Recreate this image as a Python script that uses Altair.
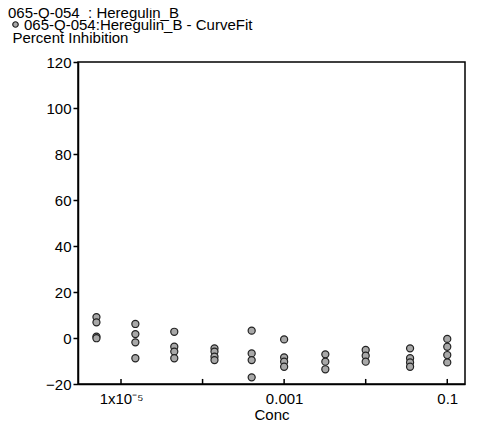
import altair as alt
import pandas as pd

# Concentrations (x) and replicate responses (Percent Inhibition)
conc = [5e-6, 1.5e-5, 4.5e-5, 1.4e-4, 4e-4, 1e-3, 3.2e-3, 1e-2, 3.5e-2, 0.1]
rep1 = [9.1, 6.1, 2.7, -4.5, 3.2, -0.6, -7.1, -5.2, -4.5, -0.4]
rep2 = [6.8, 1.7, -3.8, -5.9, -6.7, -8.4, -10.3, -7.7, -8.8, -3.8]
rep3 = [0.6, -1.9, -5.9, -8.1, -9.6, -10.3, -13.6, -10.3, -10.6, -7.4]
rep4 = [-0.1, -8.8, -8.8, -9.6, -17.1, -12.5, None, None, -12.5, -10.6]

series_name = "065-Q-054:Heregulin_B - CurveFit"
title_text = "065-Q-054\u00a0\u00a0: Heregulin_B"
y_title = "Percent Inhibition"
x_title = "Conc"
y_ticks = [-20, 0, 20, 40, 60, 80, 100, 120]
x_label_vals = [1e-5, 1e-3, 0.1]
x_tick_vals = [1e-5, 1e-4, 1e-3, 1e-2, 0.1]

rows = []
for reps in (rep1, rep2, rep3, rep4):
    for c, v in zip(conc, reps):
        if v is not None:
            rows.append({"Conc": c, "Value": v, "Series": series_name})
df = pd.DataFrame(rows)
ticks_df = pd.DataFrame({"Conc": x_tick_vals})

FONT = "Liberation Sans"
FS = 15
x_scale = alt.Scale(type="log", domain=[2.97e-6, 0.165], nice=False)
y_scale = alt.Scale(domain=[-20, 120], nice=False, zero=False)

points = alt.Chart(df).mark_point(
    shape="circle", filled=True, size=50, fill="#a8a8a8", stroke="#222222",
    strokeWidth=1.2, opacity=1
).encode(
    x=alt.X("Conc:Q", scale=x_scale, axis=alt.Axis(
        title=x_title, values=x_label_vals, ticks=False, grid=False,
        labelExpr="datum.value < 2e-5 ? '1x10⁻⁵' : (datum.value < 0.005 ? '0.001' : '0.1')",
        labelFont=FONT, labelFontSize=FS, labelColor="black", labelPadding=7,
        titleFont=FONT, titleFontSize=FS, titleFontWeight="normal", titleColor="black",
        titlePadding=1, domainColor="black", domainWidth=1.5, labelFlush=False)),
    y=alt.Y("Value:Q", scale=y_scale, axis=alt.Axis(
        title=y_title, values=y_ticks, grid=False, tickSize=5, tickColor="black",
        tickWidth=1.5, labelFont=FONT, labelFontSize=FS, labelColor="black",
        labelPadding=2, domainColor="black", domainWidth=1.5,
        titleFont=FONT, titleFontSize=FS, titleFontWeight="normal", titleColor="black",
        titleAngle=0, titleAlign="left", titleBaseline="alphabetic",
        titleX=-66, titleY=-20)),
    color=alt.Color("Series:N", scale=alt.Scale(range=["#a8a8a8"]), legend=alt.Legend(
        title=None, orient="none", legendX=-70, legendY=-45, padding=0,
        labelFont=FONT, labelFontSize=FS, labelColor="black", labelLimit=400,
        symbolType="circle", symbolSize=30, symbolStrokeColor="#222222",
        symbolStrokeWidth=1.2, symbolFillColor="#a8a8a8", labelOffset=1)),
)

xticks = alt.Chart(ticks_df).mark_rule(color="black", strokeWidth=1.5).encode(
    x=alt.X("Conc:Q", scale=x_scale),
    y=alt.datum(-20),
    y2=alt.datum(-17.8),
)

chart = alt.layer(xticks, points).properties(
    width=387, height=322,
    title=alt.TitleParams(title_text, anchor="start", frame="group", dx=-70, dy=10,
                          font=FONT, fontSize=FS, fontWeight="normal", color="black",
                          offset=6),
    padding={"left": 70, "top": 54, "right": 27, "bottom": 37},
    autosize=alt.AutoSizeParams(type="none"),
).configure_view(stroke="black", strokeWidth=1.5)

chart.save("out.html", embed_options={"renderer": "svg", "actions": False})
